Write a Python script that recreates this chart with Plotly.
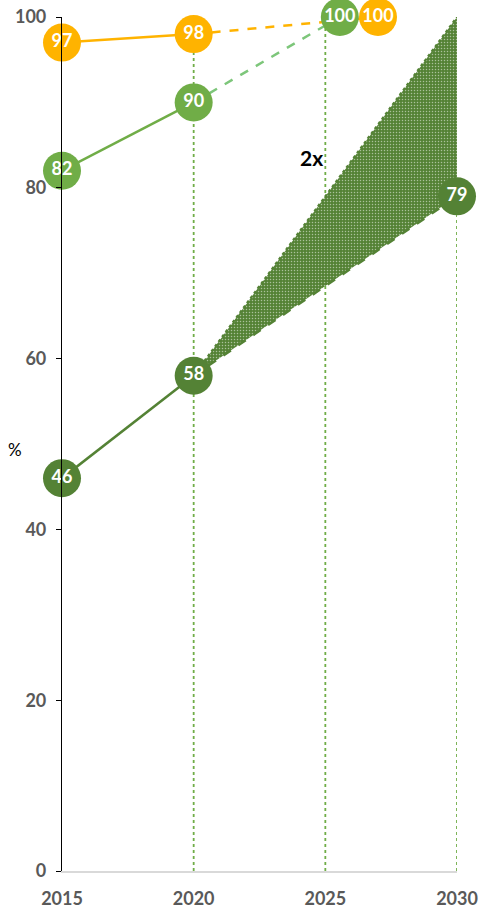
import plotly.graph_objects as go

# Tick years and axis ticks
years = [2015, 2020, 2025, 2030]
y_ticks = [0, 20, 40, 60, 80, 100]

# Orange series: observed values and 100% target
orange_years = [2015, 2020]
orange_vals = [97, 98]
orange_target_x = 2027
orange_target = 100

# Light green series: observed values and 100% target
light_years = [2015, 2020]
light_vals = [82, 90]
light_target_x = 2025.55
light_target = 100

# Dark green series: observed values, trend projection and doubling goal
dark_years = [2015, 2020]
dark_vals = [46, 58]
dark_trend_year = 2030
dark_trend = 79
dark_goal = 100

# Vertical guide lines: year and height
guide_years = [2020, 2025, 2030]
guide_tops = [98, 100, 100]

ORANGE = "#FFB300"
LIGHT = "#70AD47"
LIGHT_DASH = "#7DC67A"
DARK = "#548235"
GRAY = "#595959"
FONT = "Lato"

fig = go.Figure()

# dotted vertical guides
for gx, gt in zip(guide_years, guide_tops):
    fig.add_trace(go.Scatter(x=[gx, gx], y=[0, gt], mode="lines",
                             line=dict(color=LIGHT, width=1.8, dash="dot"),
                             hoverinfo="skip", showlegend=False))

# doubling wedge between trend and goal
fig.add_trace(go.Scatter(
    x=[dark_years[-1], dark_trend_year, dark_trend_year, dark_years[-1]],
    y=[dark_vals[-1], dark_goal, dark_trend, dark_vals[-1]],
    mode="lines", fill="toself", fillcolor=DARK,
    fillpattern=dict(shape=".", fgcolor="white", bgcolor=DARK, size=3, solidity=0.2),
    line=dict(width=0), hoverinfo="skip", showlegend=False))
fig.add_trace(go.Scatter(x=[dark_years[-1], dark_trend_year], y=[dark_vals[-1], dark_goal],
                         mode="lines", line=dict(color=DARK, width=2.2, dash="dot"),
                         showlegend=False, hoverinfo="skip"))

# dashed projections
fig.add_trace(go.Scatter(x=[dark_years[-1], dark_trend_year], y=[dark_vals[-1], dark_trend],
                         mode="lines", line=dict(color=DARK, width=2.5, dash="dash"),
                         showlegend=False))
fig.add_trace(go.Scatter(x=[light_years[-1], light_target_x], y=[light_vals[-1], light_target],
                         mode="lines", line=dict(color=LIGHT_DASH, width=2.5, dash="dash"),
                         showlegend=False))
fig.add_trace(go.Scatter(x=[orange_years[-1], orange_target_x], y=[orange_vals[-1], orange_target],
                         mode="lines", line=dict(color=ORANGE, width=2.5, dash="dash"),
                         showlegend=False))

# solid observed lines
for xs, ys, col in [(orange_years, orange_vals, ORANGE),
                    (light_years, light_vals, LIGHT),
                    (dark_years, dark_vals, DARK)]:
    fig.add_trace(go.Scatter(x=xs, y=ys, mode="lines", line=dict(color=col, width=2.5),
                             showlegend=False))

# bubble markers with values
def bubbles(xs, ys, col):
    fig.add_trace(go.Scatter(
        x=xs, y=ys, mode="markers+text", text=[str(v) for v in ys],
        textposition="middle center",
        textfont=dict(color="white", size=18, family=FONT, weight="bold"),
        marker=dict(size=38, color=col, line=dict(width=0)),
        cliponaxis=False, showlegend=False))

bubbles(orange_years + [orange_target_x], orange_vals + [orange_target], ORANGE)
bubbles(light_years + [light_target_x], light_vals + [light_target], LIGHT)
bubbles(dark_years + [dark_trend_year], dark_vals + [dark_trend], DARK)

fig.add_annotation(x=2024.47, y=83.5, text="<b>2x</b>", showarrow=False,
                   font=dict(size=21, color="black", family=FONT))
fig.add_annotation(xref="paper", yref="y", x=-0.118, y=49.3, text="%", showarrow=False,
                   xanchor="center", font=dict(size=17, color="black", family=FONT))

fig.update_layout(
    width=479, height=909, plot_bgcolor="white", paper_bgcolor="white",
    margin=dict(l=62, r=22, t=17, b=38, autoexpand=False),
    xaxis=dict(range=[2015, 2030], tickvals=years, ticks="", showgrid=False,
               zeroline=False, showline=True, linecolor="#D9D9D9", linewidth=2,
               automargin=False, ticklabelstandoff=10,
               tickfont=dict(size=18, color=GRAY, family=FONT, weight="bold")),
    yaxis=dict(range=[0, 100], tickvals=y_ticks, ticks="outside", ticklen=5,
               tickcolor="black", showgrid=False, zeroline=False, showline=True,
               linecolor="black", linewidth=1.2, ticklabelstandoff=6, automargin=False,
               tickfont=dict(size=18, color=GRAY, family=FONT, weight="bold")),
)

fig.write_html("out.html")
